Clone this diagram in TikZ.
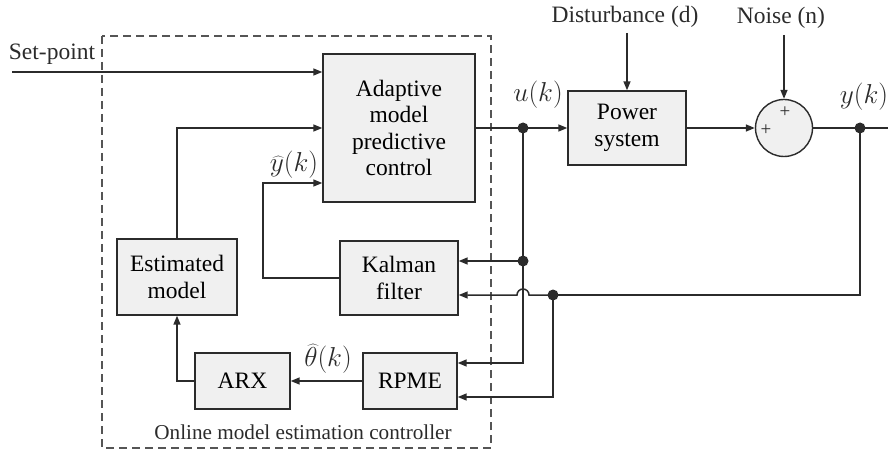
\documentclass[tikz,border=0pt]{standalone}
\usepackage{graphicx}
\usepackage{fontspec}
\setmainfont{Liberation Serif}
\usetikzlibrary{arrows.meta,calc}
\definecolor{lc}{HTML}{2B2B2B}
\definecolor{bf}{HTML}{F0F0F0}
\definecolor{dc}{HTML}{555555}
\newcommand{\mth}[1]{\scalebox{1.1}{\fontsize{24.88}{26}\selectfont$#1$}}
\begin{document}
\begin{tikzpicture}[x=1pt,y=-1pt,
  font=\fontsize{23.5}{26.5}\selectfont,
  blk/.style={draw=lc, fill=bf, line width=1.4pt, align=center, inner sep=0pt},
  wire/.style={draw=lc, line width=1.5pt},
  arr/.style={wire, -{Triangle[length=9pt,width=7pt]}},
  dot/.style={circle, fill=lc, inner sep=0pt, minimum size=11pt},
  lbl/.style={inner sep=0pt, text=lc}]
\useasboundingbox (0,0) rectangle (888,454);
% dashed frame
\draw[dc, line width=1.3pt, dash pattern=on 8pt off 5pt] (102,36) rectangle (491,448);
\node[lbl, font=\fontsize{21.2}{24}\selectfont] (frm) at (303,432) {Online model estimation controller};
% blocks
\node[blk, minimum width=152pt, minimum height=148pt] (mpc) at (399,128) {Adaptive\\model\\predictive\\control};
\node[blk, minimum width=118pt, minimum height=74pt] (ps) at (627,128) {Power\\system};
\node[blk, circle, minimum size=57pt] (sum) at (784,128) {};
\node[blk, minimum width=118pt, minimum height=74pt] (kal) at (399,278) {Kalman\\filter};
\node[blk, minimum width=120pt, minimum height=76pt] (est) at (177,277) {Estimated\\model};
\node[blk, minimum width=95pt, minimum height=56pt] (arx) at (242.5,381) {ARX};
\node[blk, minimum width=94pt, minimum height=56pt] (rpme) at (410,381) {RPME};
% plus signs
\node[lbl, font=\fontsize{19}{19}\selectfont] (p1) at (785,112) {+};
\node[lbl, font=\fontsize{19}{19}\selectfont] (p2) at (766,130) {+};
% labels
\node[lbl] (spl) at (52,54) {Set-point};
\node[lbl] (dist) at (625,17) {Disturbance (d)};
\node[lbl] (noise) at (781,18) {Noise (n)};
\node[lbl] (ul) at (538,95) {\mth{u(k)}};
\node[lbl] (yl) at (864,97) {\mth{y(k)}};
\node[lbl] (yhl) at (294,165) {\mth{\widehat{y}(k)}};
\node[lbl] (thl) at (328,359) {\mth{\widehat{\theta}(k)}};
% coordinates
\coordinate (sp) at (12,72);
\coordinate (yh) at (263,183);
\coordinate (uj) at (523,128);
\coordinate (kj) at (523,261);
\coordinate (yj) at (860,128);
\coordinate (y2) at (553,295);
\coordinate (oe) at (888,128);
\coordinate (dtop) at (627,33);
\coordinate (ntop) at (784,35);
% connectors
\draw[arr] (sp) -- (sp -| mpc.west);
\draw[arr] (est.north) |- (mpc.west);
\draw[arr] (kal.west) -| (yh) -- (yh -| mpc.west);
\draw[arr] (mpc.east) -- (ps.west);
\draw[wire] (uj) -- (kj);
\draw[arr] (kj) -- (kj -| kal.east);
\draw[arr] (kj) -- (523,363) -- (rpme.east |- 0,363);
\draw[arr] (ps.east) -- (sum.west);
\draw[wire] (sum.east) -- (oe);
\draw[wire] (yj) |- (y2);
\draw[arr] (y2) -- (529,295) arc[start angle=0, end angle=180, radius=6pt] -- (kal.east |- y2);
\draw[arr] (y2) |- (rpme.east |- 0,397);
\draw[arr] (rpme.west) -- (arx.east);
\draw[arr] (arx.west) -| (est.south);
\draw[arr] (dtop) -- (ps.north);
\draw[arr] (ntop) -- (sum.north);
% junction dots
\node[dot] at (uj) {};
\node[dot] at (kj) {};
\node[dot] at (yj) {};
\node[dot] at (y2) {};
\end{tikzpicture}
\end{document}
